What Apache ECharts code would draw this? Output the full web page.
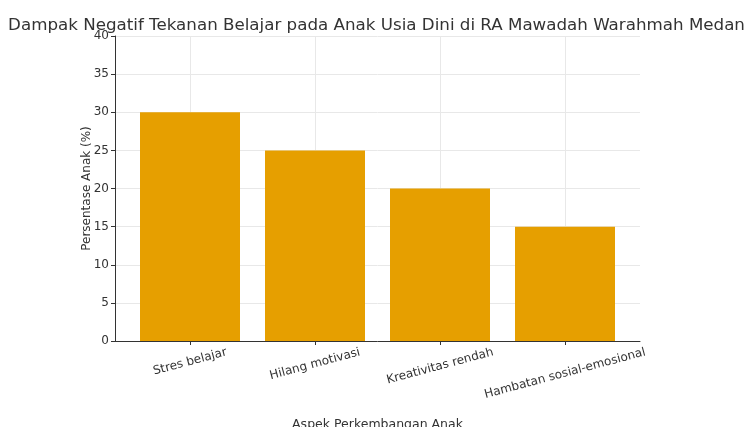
<!DOCTYPE html>
<html>
<head>
<meta charset="utf-8">
<script src="https://cdn.jsdelivr.net/npm/echarts@6/dist/echarts.min.js"></script>
<style>
  html, body { margin: 0; padding: 0; background: #fff; }
  #chart { width: 747px; height: 427px; }
</style>
</head>
<body>
<div id="chart"></div>
<script>
    'use strict';

    const categories = ["Stres belajar", "Hilang motivasi", "Kreativitas rendah", "Hambatan sosial-emosional"];
    const persentase = [30, 25, 20, 15];
    const yTicks = [0, 5, 10, 15, 20, 25, 30, 35, 40];

    const FONT = "DejaVu Sans", LABEL_SIZE = 12, ROT = 15;

    // matplotlib puts the top of each rotated label's box at the same height,
    // so give every label its own padding to push its centre down accordingly
    const ctx = document.createElement("canvas").getContext("2d");
    ctx.font = LABEL_SIZE + "px \"" + FONT + "\"";
    const s = Math.sin(ROT * Math.PI / 180), c = Math.cos(ROT * Math.PI / 180);
    const rich = {};
    categories.forEach((name, i) => {
        const w = ctx.measureText(name).width;
        rich["r" + i] = {
            fontFamily: FONT, fontSize: LABEL_SIZE, color: "#333",
            padding: [w * s * c, w * s * s, 0, 0]
        };
    });

    const chart = echarts.init(document.getElementById("chart"));
    chart.setOption({
        animation: false,
        textStyle: {fontFamily: FONT},
        title: {
            text: "Dampak Negatif Tekanan Belajar pada Anak Usia Dini di RA Mawadah Warahmah Medan",
            left: 371.5,
            textAlign: "center",
            top: 12,
            textStyle: {fontFamily: FONT, fontSize: 16.7, fontWeight: "normal", color: "#333"}
        },
        grid: {left: 115, right: 107, top: 36, bottom: 86, containLabel: false, outerBoundsMode: "none"},
        xAxis: {
            type: "value",
            min: -0.6,
            max: 3.6,
            name: "Aspek Perkembangan Anak",
            nameLocation: "middle",
            nameGap: 77,
            nameMoveOverlap: false,
            nameTextStyle: {fontFamily: FONT, fontSize: 12.5, color: "#333"},
            axisLine: {show: true, onZero: false, lineStyle: {color: "#333", width: 1}},
            axisTick: {show: true, length: 4, lineStyle: {color: "#333"}, customValues: [0, 1, 2, 3]},
            axisLabel: {
                customValues: [0, 1, 2, 3],
                rotate: ROT,
                align: "center",
                verticalAlign: "middle",
                margin: 11,
                formatter: v => "{r" + v + "|" + categories[v] + "}",
                rich: rich
            },
            splitLine: {show: true, lineStyle: {color: "#e8e8e8", width: 1}}
        },
        yAxis: {
            type: "value",
            min: 0,
            max: 40,
            interval: 5,
            name: "Persentase Anak (%)",
            nameLocation: "middle",
            nameGap: 22,
            nameMoveOverlap: false,
            nameTextStyle: {fontFamily: FONT, fontSize: 12, color: "#333"},
            axisLine: {show: true, onZero: false, lineStyle: {color: "#333", width: 1}},
            axisTick: {show: true, length: 4, lineStyle: {color: "#333"}},
            axisLabel: {
                fontFamily: FONT, fontSize: 12, color: "#333", margin: 6,
                formatter: v => yTicks.includes(v) ? String(v) : ""
            },
            splitLine: {show: true, lineStyle: {color: "#e8e8e8", width: 1}}
        },
        series: [{
            type: "bar",
            data: persentase.map((v, i) => [i, v]),
            barWidth: 100,
            itemStyle: {color: "#E69F00"}
        }]
    });
</script>
</body>
</html>
